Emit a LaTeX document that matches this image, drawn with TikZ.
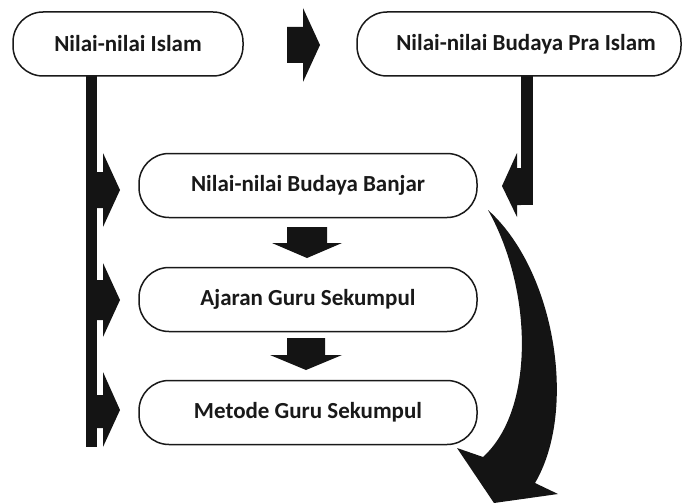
\documentclass[tikz,border=0pt]{standalone}
\usepackage{fontspec}
\setmainfont{Carlito}
\begin{document}
\begin{tikzpicture}[x=1pt,y=-1pt,
  box/.style={draw=black!90, line width=1.5pt, rounded corners=30pt, minimum height=64pt,
    font=\fontsize{23}{27}\selectfont\bfseries, fill=white, inner sep=0pt, text=black!90},
  blk/.style={fill=black!92, draw=none}]
\useasboundingbox (0,0) rectangle (683,503);
% bars and block arrows (drawn first)
\fill[blk] (86,74) rectangle (97,447);
\fill[blk] (97,172) -- (103,172) -- (103,153) -- (120,190) -- (103,227) -- (103,208) -- (97,208) -- cycle;
\fill[blk] (97,280) -- (103,280) -- (103,263) -- (120,300) -- (103,337) -- (103,320) -- (97,320) -- cycle;
\fill[blk] (97,395) -- (103,395) -- (103,372) -- (120,410) -- (103,447) -- (103,428) -- (97,428) -- cycle;
\fill[blk] (521,74) rectangle (533,205);
\fill[blk] (521,168) -- (517,168) -- (517,153) -- (502,186) -- (517,217) -- (517,205) -- (521,205) -- cycle;
% boxes
\node[box, minimum width=230pt] (b1) at (128,44) {Nilai-nilai Islam};
\node[box, minimum width=324pt] (b2) at (519,44) {\hspace*{14pt}Nilai-nilai Budaya Pra Islam};
\node[box, minimum width=338pt] (b3) at (308,185.5) {Nilai-nilai Budaya Banjar};
\node[box, minimum width=338pt] (b4) at (308,299.5) {Ajaran Guru Sekumpul};
\node[box, minimum width=338pt] (b5) at (308,412.5) {Metode Guru Sekumpul};
% top arrow between b1 and b2
\fill[blk] (287,27) -- (303,27) -- (303,8) -- (320,45) -- (303,82) -- (303,63) -- (287,63) -- cycle;
% down arrows
\fill[blk] (287,227) -- (327,227) -- (327,243) -- (342,243) -- (307,258) -- (272,243) -- (287,243) -- cycle;
\fill[blk] (287,338) -- (325,338) -- (325,355) -- (342,355) -- (306,370) -- (270,355) -- (287,355) -- cycle;
% curved arrow
\fill[blk] (488,210) .. controls (555,270) and (578,410) .. (535,483)
  -- (558,494) -- (494,503) -- (457,448) -- (483,457)
  .. controls (535,410) and (533,290) .. (488,210) -- cycle;
\end{tikzpicture}
\end{document}
